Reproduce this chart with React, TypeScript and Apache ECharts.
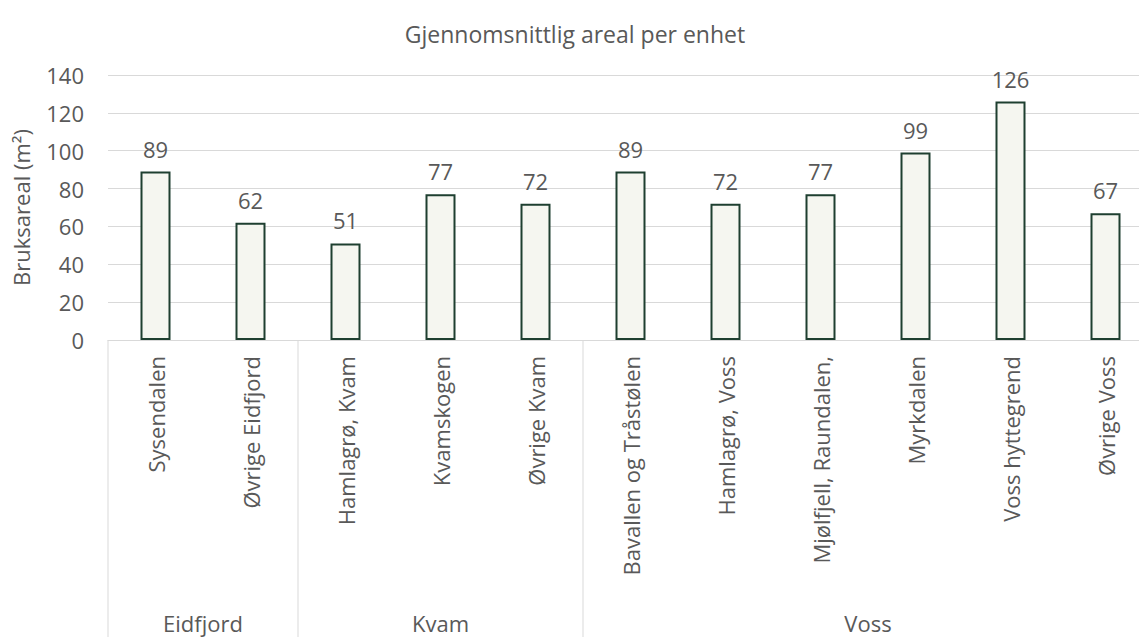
import React, { useEffect, useRef } from "react";
import * as echarts from "echarts";

const categories = [
  "Sysendalen",
  "Øvrige Eidfjord",
  "Hamlagrø, Kvam",
  "Kvamskogen",
  "Øvrige Kvam",
  "Bavallen og Tråstølen",
  "Hamlagrø, Voss",
  "Mjølfjell, Raundalen,",
  "Myrkdalen",
  "Voss hyttegrend",
  "Øvrige Voss",
];
const values = [89, 62, 51, 77, 72, 89, 72, 77, 99, 126, 67];
const groups = ["Eidfjord", "Kvam", "Voss"];
const groupSizes = [2, 3, 6];

const FONT = "Open Sans";
const TXT = "#595959";
const FS = 22;

export default function App() {
  const ref = useRef<HTMLDivElement>(null);
  useEffect(() => {
    if (!ref.current) return;
    const chart = echarts.init(ref.current, undefined, { renderer: "svg" });
    chart.setOption({
      animation: false,
      backgroundColor: "#ffffff",
      textStyle: { fontFamily: FONT },
      title: {
        text: "Gjennomsnittlig areal per enhet",
        left: 570,
        textAlign: "center",
        top: 17,
        textStyle: { fontFamily: FONT, fontSize: 23, fontWeight: "normal", color: TXT },
      },
      grid: { left: 108, top: 75, width: 1045, height: 265, containLabel: false },
      xAxis: {
        type: "category",
        data: categories,
        axisLine: { lineStyle: { color: "#D9D9D9", width: 1 } },
        axisTick: { show: false },
        axisLabel: { rotate: 90, fontSize: FS, color: TXT, margin: 16, fontFamily: FONT },
      },
      yAxis: {
        type: "value",
        min: 0,
        max: 140,
        interval: 20,
        name: "Bruksareal (m²)",
        nameLocation: "middle",
        nameGap: 76,
        nameTextStyle: { fontSize: FS, color: TXT, fontFamily: FONT },
        axisLine: { show: false },
        axisTick: { show: false },
        axisLabel: { fontSize: FS, color: TXT, margin: 24, fontFamily: FONT },
        splitLine: { lineStyle: { color: "#D9D9D9", width: 1 } },
      },
      series: [
        {
          type: "bar",
          data: values,
          barWidth: 30,
          itemStyle: { color: "#F5F6F0", borderColor: "#1E3F30", borderWidth: 2 },
          label: {
            show: true,
            position: "top",
            distance: 12,
            fontSize: FS,
            color: TXT,
            fontFamily: FONT,
          },
        },
      ],
    });

    const y0 = chart.convertToPixel({ yAxisIndex: 0 }, 0) as number;
    const c0 = chart.convertToPixel({ xAxisIndex: 0 }, 0) as number;
    const c1 = chart.convertToPixel({ xAxisIndex: 0 }, 1) as number;
    const band = c1 - c0;
    const boundary = (i: number) => c0 - band / 2 + i * band;
    const elements: any[] = [];
    let start = 0;
    elements.push({
      type: "line",
      shape: { x1: boundary(0), y1: y0, x2: boundary(0), y2: 637 },
      style: { stroke: "#D9D9D9", lineWidth: 1 },
    });
    groups.forEach((g, gi) => {
      const end = start + groupSizes[gi];
      elements.push({
        type: "line",
        shape: { x1: boundary(end), y1: y0, x2: boundary(end), y2: 637 },
        style: { stroke: "#D9D9D9", lineWidth: 1 },
      });
      elements.push({
        type: "text",
        x: (boundary(start) + boundary(end)) / 2,
        y: 623,
        style: {
          text: g,
          fontSize: FS,
          fontFamily: FONT,
          fill: TXT,
          align: "center",
          verticalAlign: "middle",
        },
      });
      start = end;
    });
    chart.setOption({ graphic: elements });

    return () => chart.dispose();
  }, []);
  return (
    <div
      style={{
        position: "fixed",
        left: 0,
        top: 0,
        width: 1139,
        height: 637,
        overflow: "hidden",
        background: "#fff",
      }}
    >
      <div ref={ref} style={{ width: 1170, height: 637 }} />
    </div>
  );
}
